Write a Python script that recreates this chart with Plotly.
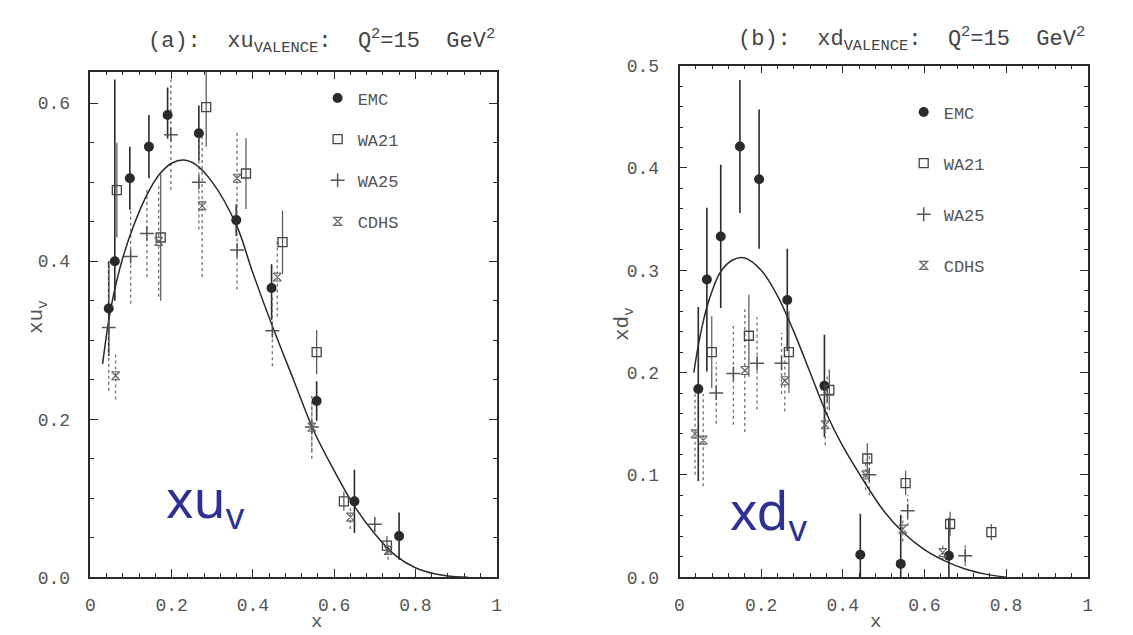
import plotly.graph_objects as go

# ---------------- data: panel (a) xu_valence ----------------
u_emc_x = [0.045, 0.06, 0.097, 0.144, 0.19, 0.267, 0.359, 0.446, 0.557, 0.65, 0.76]
u_emc_y = [0.34, 0.40, 0.505, 0.545, 0.585, 0.562, 0.452, 0.366, 0.223, 0.096, 0.052]
u_emc_up = [0.06, 0.23, 0.04, 0.04, 0.035, 0.035, 0.02, 0.03, 0.025, 0.04, 0.03]
u_emc_dn = [0.06, 0.05, 0.04, 0.04, 0.03, 0.035, 0.02, 0.04, 0.025, 0.04, 0.03]

u_wa21_x = [0.065, 0.173, 0.285, 0.383, 0.473, 0.557, 0.624, 0.73]
u_wa21_y = [0.49, 0.43, 0.595, 0.511, 0.424, 0.285, 0.096, 0.04]
u_wa21_e = [0.06, 0.08, 0.05, 0.045, 0.04, 0.028, 0.012, 0.012]

u_wa25_x = [0.045, 0.099, 0.139, 0.198, 0.267, 0.361, 0.448, 0.545, 0.70]
u_wa25_y = [0.316, 0.406, 0.435, 0.56, 0.50, 0.414, 0.312, 0.19, 0.067]
u_wa25_e = [0.08, 0.06, 0.055, 0.07, 0.06, 0.05, 0.045, 0.03, 0.01]

u_cdhs_x = [0.062, 0.168, 0.275, 0.361, 0.46, 0.545, 0.64, 0.733]
u_cdhs_y = [0.255, 0.425, 0.47, 0.505, 0.38, 0.19, 0.076, 0.034]
u_cdhs_e = [0.03, 0.07, 0.09, 0.06, 0.05, 0.04, 0.015, 0.012]

u_fit_x = [0.03, 0.05, 0.08, 0.11, 0.14, 0.17, 0.20, 0.23, 0.26, 0.30, 0.36, 0.40,
           0.45, 0.50, 0.55, 0.60, 0.65, 0.70, 0.75, 0.80, 0.85, 0.90, 0.93]
u_fit_y = [0.27, 0.34, 0.405, 0.45, 0.485, 0.51, 0.524, 0.528, 0.522, 0.50, 0.445, 0.385,
           0.315, 0.25, 0.185, 0.135, 0.09, 0.055, 0.028, 0.012, 0.004, 0.0005, 0.0]

# ---------------- data: panel (b) xd_valence ----------------
d_emc_x = [0.046, 0.067, 0.101, 0.148, 0.195, 0.264, 0.355, 0.443, 0.542, 0.66]
d_emc_y = [0.184, 0.291, 0.333, 0.421, 0.389, 0.271, 0.187, 0.022, 0.013, 0.021]
d_emc_up = [0.08, 0.07, 0.07, 0.065, 0.068, 0.05, 0.05, 0.04, 0.048, 0.037]
d_emc_dn = [0.09, 0.09, 0.07, 0.065, 0.068, 0.05, 0.05, 0.022, 0.013, 0.021]

d_wa21_x = [0.079, 0.17, 0.268, 0.367, 0.46, 0.554, 0.663, 0.764]
d_wa21_y = [0.22, 0.236, 0.22, 0.183, 0.116, 0.092, 0.052, 0.044]
d_wa21_e = [0.035, 0.04, 0.04, 0.02, 0.015, 0.012, 0.012, 0.008]

d_wa25_x = [0.09, 0.132, 0.19, 0.25, 0.362, 0.465, 0.559, 0.70]
d_wa25_y = [0.18, 0.199, 0.209, 0.209, 0.178, 0.10, 0.065, 0.021]
d_wa25_e = [0.03, 0.05, 0.045, 0.03, 0.02, 0.02, 0.015, 0.01]

d_cdhs_x = [0.038, 0.058, 0.16, 0.258, 0.357, 0.456, 0.547, 0.645]
d_cdhs_y = [0.14, 0.134, 0.202, 0.192, 0.149, 0.10, 0.047, 0.024]
d_cdhs_e = [0.04, 0.045, 0.06, 0.03, 0.02, 0.015, 0.012, 0.008]

d_fit_x = [0.035, 0.05, 0.07, 0.10, 0.13, 0.16, 0.20, 0.24, 0.28, 0.32, 0.36, 0.40,
           0.45, 0.50, 0.55, 0.60, 0.65, 0.70, 0.75, 0.80]
d_fit_y = [0.20, 0.235, 0.268, 0.298, 0.31, 0.312, 0.30, 0.275, 0.24, 0.20, 0.16, 0.128,
           0.095, 0.065, 0.043, 0.027, 0.016, 0.008, 0.003, 0.0]

x_ticks = [0, 0.2, 0.4, 0.6, 0.8, 1]
x_tick_text = ["0", "0.2", "0.4", "0.6", "0.8", "1"]

INK = "#2a2a2a"
GREY = "#7a7a7a"
TXT = "#555555"
MONO = "Liberation Mono"


def segs(xs, ys, up, dn):
    sx, sy = [], []
    for x, y, u, d in zip(xs, ys, up, dn):
        sx += [x, x, None]
        sy += [y - d, y + u, None]
    return sx, sy


fig = go.Figure()


def add_panel(xa, ya, leg, emc, wa21, wa25, cdhs, fit):
    for (xs, ys, up, dn), col, dash, w in [
        (emc, INK, "solid", 1.6),
        (wa21, "#555555", "solid", 1.2),
        (wa25, GREY, "dot", 1.4),
        (cdhs, GREY, "dot", 1.4),
    ]:
        sx, sy = segs(xs, ys, up, dn)
        fig.add_trace(go.Scatter(x=sx, y=sy, mode="lines", xaxis=xa, yaxis=ya,
                                 line=dict(color=col, width=w, dash=dash),
                                 showlegend=False, hoverinfo="skip"))
    fig.add_trace(go.Scatter(x=fit[0], y=fit[1], mode="lines", xaxis=xa, yaxis=ya,
                             line=dict(color=INK, width=1.5, shape="spline"),
                             showlegend=False, hoverinfo="skip"))
    specs = [
        ("EMC", emc, dict(symbol="circle", size=10, color=INK, line=dict(width=0))),
        ("WA21", wa21, dict(symbol="square-open", size=9, color="#444444", line=dict(width=1.3))),
        ("WA25", wa25, dict(symbol="cross-thin-open", size=10, color="#555555", line=dict(width=1.5))),
        ("CDHS", cdhs, dict(symbol="hourglass-open", size=8, color="#666666", line=dict(width=1.2))),
    ]
    for name, (xs, ys, _, _), mk in specs:
        fig.add_trace(go.Scatter(x=xs, y=ys, mode="markers", name=name, xaxis=xa, yaxis=ya,
                                 marker=mk, legend=leg, legendgroup=leg + name))


add_panel("x", "y", "legend",
          (u_emc_x, u_emc_y, u_emc_up, u_emc_dn),
          (u_wa21_x, u_wa21_y, u_wa21_e, u_wa21_e),
          (u_wa25_x, u_wa25_y, u_wa25_e, u_wa25_e),
          (u_cdhs_x, u_cdhs_y, u_cdhs_e, u_cdhs_e),
          (u_fit_x, u_fit_y))
add_panel("x2", "y2", "legend2",
          (d_emc_x, d_emc_y, d_emc_up, d_emc_dn),
          (d_wa21_x, d_wa21_y, d_wa21_e, d_wa21_e),
          (d_wa25_x, d_wa25_y, d_wa25_e, d_wa25_e),
          (d_cdhs_x, d_cdhs_y, d_cdhs_e, d_cdhs_e),
          (d_fit_x, d_fit_y))

W, H = 1133, 635
# observed page placement: shown = offset + scale * figure pixel
OX, SX = 7.0, 0.986
OY, SY = 8.0, 0.975


def px(t):
    return ((t - OX) / SX) / W


def py(t):
    return 1 - ((t - OY) / SY) / H


axis_common = dict(showgrid=False, zeroline=False, showline=True, linecolor=INK, linewidth=1.5,
                   mirror="allticks", ticks="inside", ticklen=8, tickwidth=1.2, tickcolor=INK,
                   tickfont=dict(family=MONO, size=18, color=TXT))

fig.update_layout(
    width=W, height=H, margin=dict(l=0, r=0, t=0, b=0),
    paper_bgcolor="white", plot_bgcolor="white",
    xaxis=dict(domain=[px(92), px(496)], range=[0, 1], anchor="y",
               tickvals=x_ticks, ticktext=x_tick_text,
               minor=dict(dtick=0.04, ticks="inside", ticklen=4, tickcolor=INK),
               ticklabelstandoff=10, **axis_common),
    yaxis=dict(domain=[py(580), py(71)], range=[0, 0.64], anchor="x",
               dtick=0.2, tickformat=".1f",
               minor=dict(dtick=0.05, ticks="inside", ticklen=4, tickcolor=INK),
               ticklabelstandoff=15, **axis_common),
    xaxis2=dict(domain=[px(678), px(1084)], range=[0, 1], anchor="y2",
                tickvals=x_ticks, ticktext=x_tick_text,
                minor=dict(dtick=0.04, ticks="inside", ticklen=4, tickcolor=INK),
                ticklabelstandoff=10, **axis_common),
    yaxis2=dict(domain=[py(580), py(65)], range=[0, 0.5], anchor="x2",
                dtick=0.1, tickformat=".1f",
                minor=dict(dtick=0.02, ticks="inside", ticklen=4, tickcolor=INK),
                ticklabelstandoff=15, **axis_common),
    legend=dict(x=px(318), y=py(80), xanchor="left", yanchor="top",
                bgcolor="rgba(0,0,0,0)", tracegroupgap=16, traceorder="grouped",
                font=dict(family=MONO, size=17, color=TXT)),
    legend2=dict(x=px(901), y=py(94), xanchor="left", yanchor="top",
                 bgcolor="rgba(0,0,0,0)", tracegroupgap=26, traceorder="grouped",
                 font=dict(family=MONO, size=17, color=TXT)),
    showlegend=True,
)

title_font = dict(family=MONO, size=22, color="#444444")
ann = [
    dict(text="(a):  xu<sub>VALENCE</sub>:  Q<sup>2</sup>=15  GeV<sup>2</sup>", x=px(322), y=py(40)),
    dict(text="(b):  xd<sub>VALENCE</sub>:  Q<sup>2</sup>=15  GeV<sup>2</sup>", x=px(909), y=py(38)),
]
for a in ann:
    fig.add_annotation(xref="paper", yref="paper", showarrow=False, font=title_font,
                       xanchor="center", yanchor="middle", **a)

for txt, x, y in [("x", 317, 625), ("x", 873, 625)]:
    fig.add_annotation(xref="paper", yref="paper", showarrow=False, text=txt, x=px(x), y=py(y),
                       xanchor="center", yanchor="middle",
                       font=dict(family=MONO, size=19, color=TXT))
for txt, x, y in [("xu<sub>v</sub>", 40, 318), ("xd<sub>v</sub>", 623, 325)]:
    fig.add_annotation(xref="paper", yref="paper", showarrow=False, text=txt, x=px(x), y=py(y),
                       xanchor="center", yanchor="middle",
                       textangle=-90, font=dict(family=MONO, size=21, color=TXT))

BLUE = "#2e3192"
for txt, x, y in [("xu<sub>v</sub>", 206, 503), ("xd<sub>v</sub>", 767, 515)]:
    fig.add_annotation(xref="paper", yref="paper", showarrow=False, text=txt, x=px(x), y=py(y),
                       xanchor="center", yanchor="middle",
                       font=dict(family="Noto Sans", size=52, color=BLUE))

fig.write_html("out.html")
